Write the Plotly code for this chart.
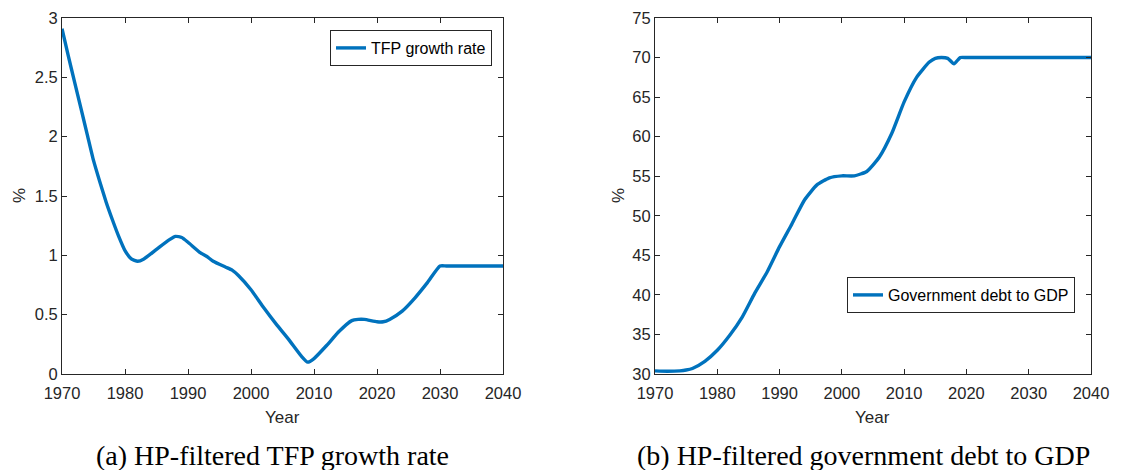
import plotly.graph_objects as go

# HP-filtered TFP growth rate (%)
tfp_years = [1970, 1971, 1972, 1973, 1974, 1975, 1976, 1977, 1978, 1979, 1980,
             1981, 1982, 1983, 1985, 1987, 1988, 1989, 1990, 1992, 1993, 1994,
             1996, 1997, 1998, 2000, 2002, 2004, 2006, 2008, 2009, 2010, 2012,
             2014, 2016, 2017, 2018, 2020, 2021, 2022, 2024, 2026, 2028, 2030,
             2031, 2033, 2036, 2040]
tfp_growth = [2.91, 2.68, 2.46, 2.24, 2.02, 1.80, 1.62, 1.45, 1.30, 1.16, 1.04,
              0.97, 0.95, 0.97, 1.05, 1.13, 1.16, 1.15, 1.11, 1.02, 0.99, 0.95,
              0.90, 0.875, 0.83, 0.71, 0.56, 0.42, 0.29, 0.15, 0.10, 0.13, 0.24,
              0.36, 0.45, 0.46, 0.46, 0.44, 0.44, 0.46, 0.53, 0.64, 0.77, 0.91,
              0.91, 0.91, 0.91, 0.91]

# HP-filtered government debt to GDP (%)
debt_years = [1970, 1972, 1974, 1975, 1976, 1978, 1980, 1982, 1984, 1986, 1988,
              1990, 1992, 1994, 1996, 1998, 2000, 2002, 2004, 2006, 2008, 2010,
              2012, 2014, 2015, 2016, 2017, 2018, 2019, 2020, 2022, 2026, 2032, 2040]
debt_gdp = [30.4, 30.35, 30.4, 30.5, 30.7, 31.6, 33.0, 34.9, 37.2, 40.2, 42.9,
            46.1, 49.0, 52.0, 53.9, 54.8, 55.05, 55.05, 55.6, 57.4, 60.4, 64.4,
            67.5, 69.4, 69.9, 70.0, 69.9, 69.2, 70.0, 70.0, 70.0, 70.0, 70.0, 70.0]

x_ticks = [1970, 1980, 1990, 2000, 2010, 2020, 2030, 2040]

LINE_BLUE = "#0072BD"
AXIS_GRAY = "#262626"
SANS = "Liberation Sans, Arial, sans-serif"
SERIF = "Liberation Serif, Times New Roman, serif"

W, H = 1137, 470

line_style = dict(color=LINE_BLUE, width=3.4, shape="spline", smoothing=0.5)

fig = go.Figure()
fig.add_trace(go.Scatter(
    x=tfp_years, y=tfp_growth, mode="lines", name="TFP growth rate",
    line=line_style, xaxis="x", yaxis="y", legend="legend",
))
fig.add_trace(go.Scatter(
    x=debt_years, y=debt_gdp, mode="lines", name="Government debt to GDP",
    line=line_style, xaxis="x2", yaxis="y2", legend="legend2",
))

y_dom = [(H - 374) / H, (H - 18) / H]
axis_common = dict(
    showline=True, linecolor=AXIS_GRAY, linewidth=1, mirror="ticks",
    ticks="inside", ticklen=5, tickcolor=AXIS_GRAY, tickwidth=1,
    showgrid=False, zeroline=False, automargin=False,
    tickfont=dict(family=SANS, size=16.5, color=AXIS_GRAY),
)
x_common = dict(axis_common, ticklabelstandoff=4)

legend_common = dict(
    xanchor="right", yanchor="top",
    bgcolor="white", bordercolor=AXIS_GRAY, borderwidth=1,
    font=dict(family=SANS, size=16, color="black"),
    tracegroupgap=0, itemwidth=30,
)

fig.update_layout(
    width=W, height=H,
    margin=dict(l=0, r=0, t=0, b=0, autoexpand=False),
    paper_bgcolor="white", plot_bgcolor="white",
    xaxis=dict(domain=[62 / W, 503 / W], range=[1970, 2040], tickvals=x_ticks,
               anchor="y", **x_common),
    yaxis=dict(domain=y_dom, range=[0, 3], tickvals=[0, 0.5, 1, 1.5, 2, 2.5, 3],
               ticktext=["0", "0.5", "1", "1.5", "2", "2.5", "3"],
               anchor="x", **axis_common),
    xaxis2=dict(domain=[655 / W, 1091 / W], range=[1970, 2040], tickvals=x_ticks,
                anchor="y2", **x_common),
    yaxis2=dict(domain=y_dom, range=[30, 75], tickvals=list(range(30, 80, 5)),
                anchor="x2", **axis_common),
    legend=dict(x=492 / W, y=(H - 30) / H, **legend_common),
    legend2=dict(x=1075 / W, y=(H - 277) / H, **legend_common),
    showlegend=True,
)

# axis titles and panel captions
texts = [
    dict(x=(62 + 503) / 2, y=417, text="Year", size=17, family=SANS, color=AXIS_GRAY, angle=0),
    dict(x=(655 + 1091) / 2, y=417, text="Year", size=17, family=SANS, color=AXIS_GRAY, angle=0),
    dict(x=19, y=196, text="%", size=17, family=SANS, color=AXIS_GRAY, angle=-90),
    dict(x=618, y=196, text="%", size=17, family=SANS, color=AXIS_GRAY, angle=-90),
    dict(x=272, y=455, text="(a) HP-filtered TFP growth rate", size=28, family=SERIF, color="black", angle=0),
    dict(x=863, y=455, text="(b) HP-filtered government debt to GDP", size=28, family=SERIF, color="black", angle=0),
]
for t in texts:
    fig.add_annotation(
        x=t["x"] / W, y=(H - t["y"]) / H, xref="paper", yref="paper",
        text=t["text"], showarrow=False, textangle=t["angle"],
        xanchor="center", yanchor="middle",
        font=dict(family=t["family"], size=t["size"], color=t["color"]),
    )

fig.write_html("out.html")
